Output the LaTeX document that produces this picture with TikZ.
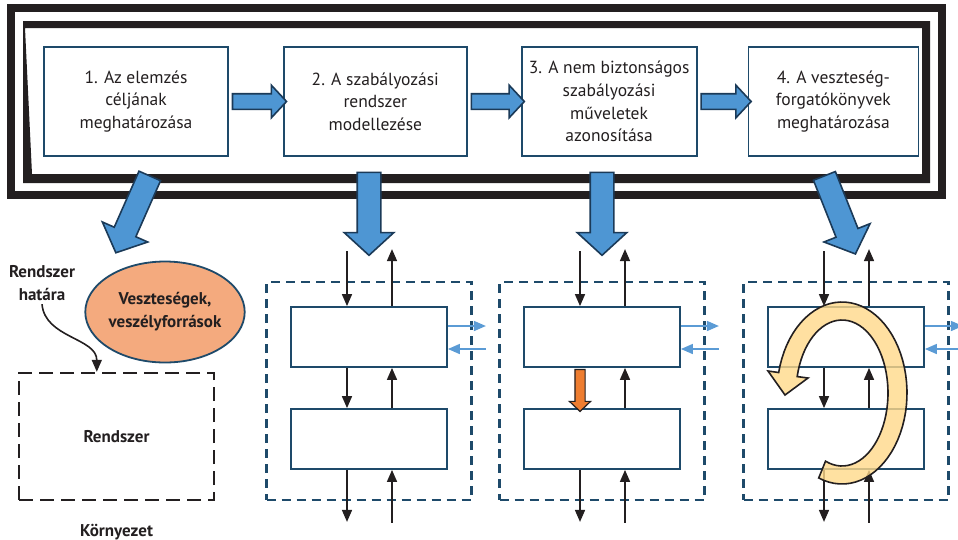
\documentclass[tikz,border=0pt]{standalone}
\usepackage{fontspec}
\setmainfont{PT Sans}
\usetikzlibrary{arrows.meta,positioning,shapes.arrows,shapes.geometric,calc}

\definecolor{ink}{HTML}{231F20}
\definecolor{frameink}{HTML}{231F20}
\definecolor{boxnavy}{HTML}{1E4A6A}
\definecolor{arrowblue}{HTML}{4E96D3}
\definecolor{arrownavy}{HTML}{1B3A58}
\definecolor{sideblue}{HTML}{5B9BD5}
\definecolor{salmon}{HTML}{F4AA7E}
\definecolor{hotorange}{HTML}{EE7D30}
\definecolor{loopyellow}{HTML}{FFD98A}

\begin{document}
\begin{tikzpicture}[x=1pt,y=-1pt,>={Triangle[length=12pt,width=10pt]},
    stepbox/.style={draw=boxnavy,line width=1.8pt,fill=white,minimum height=109pt,inner sep=2pt,
                    align=center,text=ink,font=\fontsize{17.5}{22.7}\selectfont},
    subbox/.style={draw=boxnavy,line width=1.8pt,fill=white,minimum width=156pt,minimum height=60pt},
    sysbox/.style={draw=boxnavy,line width=2.2pt,dash pattern=on 9pt off 6pt,
                   minimum width=205pt,minimum height=218pt},
    bigarrow/.style={single arrow,draw=arrownavy,fill=arrowblue,line width=1.6pt,
                     inner xsep=0pt,inner ysep=11pt,text height=0pt,text depth=0pt,
                     single arrow head extend=13pt,single arrow tip angle=95,
                     midway,sloped,allow upside down},
    flatarrow/.style={bigarrow,inner ysep=7pt,single arrow head extend=8.5pt,single arrow tip angle=94},
    hotarrow/.style={bigarrow,fill=hotorange,draw=ink,line width=1.2pt,inner ysep=4.5pt,
                     single arrow head extend=5.5pt,single arrow tip angle=93},
    wire/.style={->,draw=ink,line width=1.6pt},
    sidewire/.style={->,draw=sideblue,line width=1.6pt},
    boldlabel/.style={align=center,text=ink,font=\bfseries\fontsize{17}{23}\selectfont}]
  \useasboundingbox (0,0) rectangle (958,539);

  % double frame round the steps
  \draw[frameink,line width=8pt] (11,8) rectangle (942,195);
  \fill[frameink,even odd rule] (23,21) rectangle (930,183)
       (25,28) -- (922,28) -- (922,174) -- (32,174) -- cycle;

  \node[stepbox,minimum width=184pt] (elemzes) at (136,101.5) {1. Az elemzés\\céljának\\meghatározása};
  \node[stepbox,minimum width=183pt,right=54pt of elemzes] (modell) {2. A szabályozási\\rendszer\\modellezése};
  \node[stepbox,minimum width=175pt,right=53pt of modell] (muvelet) {3. A nem biztonságos\\szabályozási\\műveletek\\azonosítása};
  \node[stepbox,minimum width=170pt,right=50pt of muvelet] (forgato) {4. A veszteség-\\forgatókönyvek\\meghatározása};

  \path (elemzes.east) -- (modell.west) node[flatarrow,minimum height=54pt] {};
  \path (modell.east) -- (muvelet.west) node[flatarrow,minimum height=53pt] {};
  \path (muvelet.east) -- (forgato.west) node[flatarrow,minimum height=50pt] {};

  % control structure columns
  \foreach \c/\cx in {2/369,3/602,4/846}{
    \node[sysbox] (keret\c) at (\cx,391) {};
    \node[subbox] (felso\c) at (\cx,337) {};
    \node[subbox] (also\c) at (\cx,439) {};
    \draw[wire] ([xshift=-22pt,yshift=55pt]felso\c.north) -- ([xshift=-22pt]felso\c.north);
    \draw[wire] ([xshift=23pt]felso\c.north) -- ([xshift=23pt,yshift=57pt]felso\c.north);
    \draw[wire] ([xshift=23pt]also\c.north) -- ([xshift=23pt]felso\c.south);
    \draw[wire] ([xshift=-22pt]also\c.south) -- ([xshift=-22pt,yshift=-52pt]also\c.south);
    \draw[wire] ([xshift=23pt,yshift=-53pt]also\c.south) -- ([xshift=23pt]also\c.south);
    \draw[sidewire] ([yshift=11pt]felso\c.east) -- ([xshift=38pt,yshift=11pt]felso\c.east);
    \draw[sidewire] ([xshift=38pt,yshift=-12pt]felso\c.east) -- ([yshift=-12pt]felso\c.east);
  }
  \foreach \c in {2,4}
    \draw[wire] ([xshift=-22pt]felso\c.south) -- ([xshift=-22pt]also\c.north);
  \path ([xshift=-22pt]felso3.south) -- ([xshift=-22pt]also3.north) node[hotarrow,minimum height=42pt] {};

  % big arrows out of the steps
  \path ($(elemzes.south)+(16,14)$) -- ($(elemzes.south)+(-18,91)$) node[bigarrow,minimum height=84pt] {};
  \path ($(modell.south -| keret2.north)+(0,11)$) -- ($(keret2.north)+(0,-32)$) node[bigarrow,minimum height=83pt] {};
  \path ($(muvelet.south -| keret3.north)+(0,11)$) -- ($(keret3.north)+(0,-32)$) node[bigarrow,minimum height=83pt] {};
  \path ($(forgato.south)+(-11,14)$) -- ($(forgato.south)+(20,92)$) node[bigarrow,minimum height=84pt] {};

  % system and environment
  \node[boldlabel] (hatar) at (42,283) {Rendszer\\határa};
  \node[ellipse,draw=boxnavy,line width=1.8pt,fill=salmon,minimum width=155pt,minimum height=101pt,
        inner sep=0pt,boldlabel] (veszteseg) at (165,312) {Veszteségek,\\veszélyforrások};
  \node[draw=ink,line width=2.4pt,dash pattern=on 14pt off 7pt,minimum width=195pt,minimum height=127pt,
        boldlabel,text depth=-6pt] (rendszer) at (116.5,436.5) {Rendszer};
  \node[boldlabel,below=19pt of rendszer] (kornyezet) {Környezet};
  \coordinate (hatarpont) at ($(rendszer.north west)+(79,0)$);
  \draw[wire] (hatar.south) to[out=-85,in=90] (hatarpont);

  % loop over the fourth column
  \filldraw[draw=ink,line width=1.6pt,fill=loopyellow,fill opacity=0.8]
    plot[domain=-111:167,samples=60] ({842+65*cos(\x)},{393-91*sin(\x)})
    -- (768,371) -- (785,395) -- (808,378)
    -- plot[domain=167:-111,samples=60] ({842+46*cos(\x)},{393-73*sin(\x)}) -- cycle;
\end{tikzpicture}
\end{document}
